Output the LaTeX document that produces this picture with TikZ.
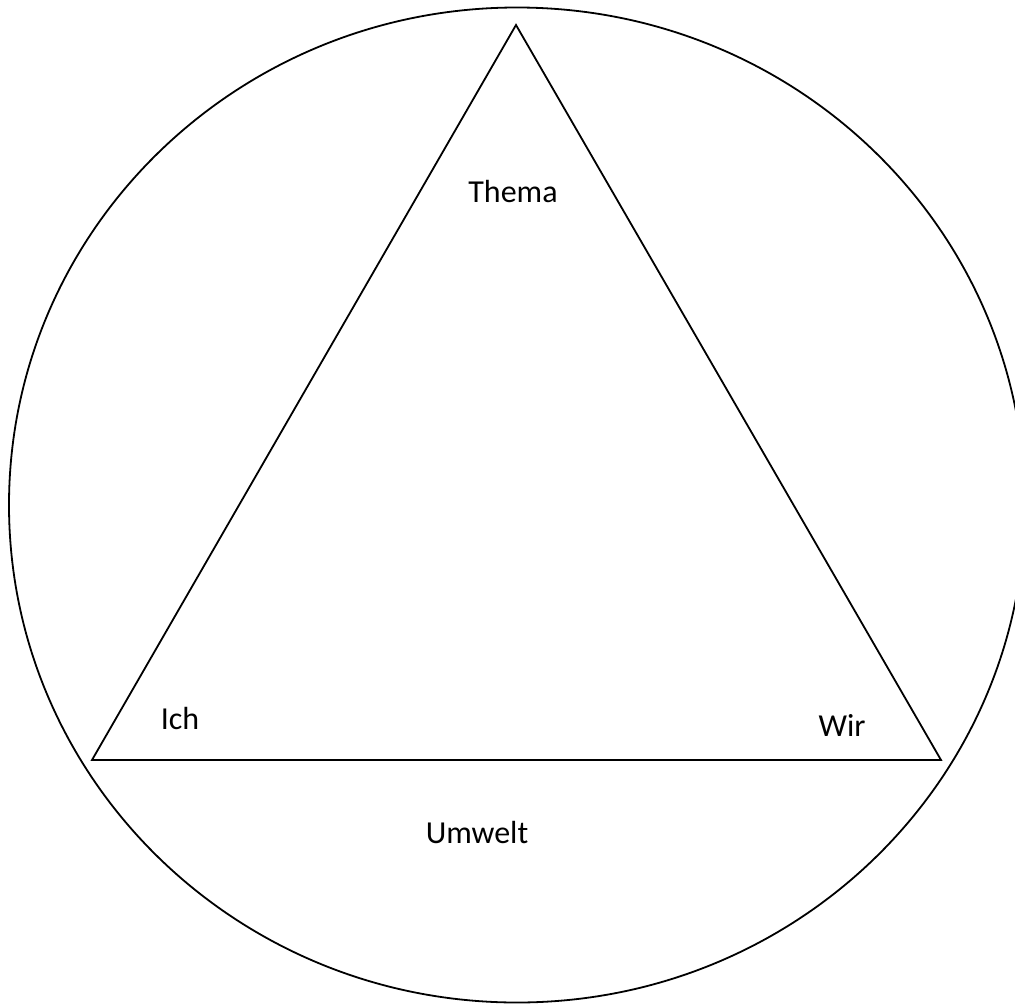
\documentclass[tikz,border=0pt]{standalone}
\usepackage{fontspec}
\setmainfont{Carlito}
\begin{document}
\begin{tikzpicture}[x=1pt,y=-1pt,line width=1.8pt]
\useasboundingbox (0,0) rectangle (1015,1004);
\clip (0,0) rectangle (1015,1004);
\draw (517,505) ellipse (508 and 497.5);
\coordinate (top) at (516,25);
\coordinate (left) at (92,760);
\coordinate (right) at (941,760);
\draw[line join=miter] (top) -- (left) -- (right) -- cycle;
\node[font=\fontsize{32}{38}\selectfont] (thema) at (513,192) {Thema};
\node[font=\fontsize{32}{38}\selectfont] (ich) at (180,718) {Ich};
\node[font=\fontsize{32}{38}\selectfont] (wir) at (842,725) {Wir};
\node[font=\fontsize{32}{38}\selectfont] (umwelt) at (477,832) {Umwelt};
\end{tikzpicture}
\end{document}
